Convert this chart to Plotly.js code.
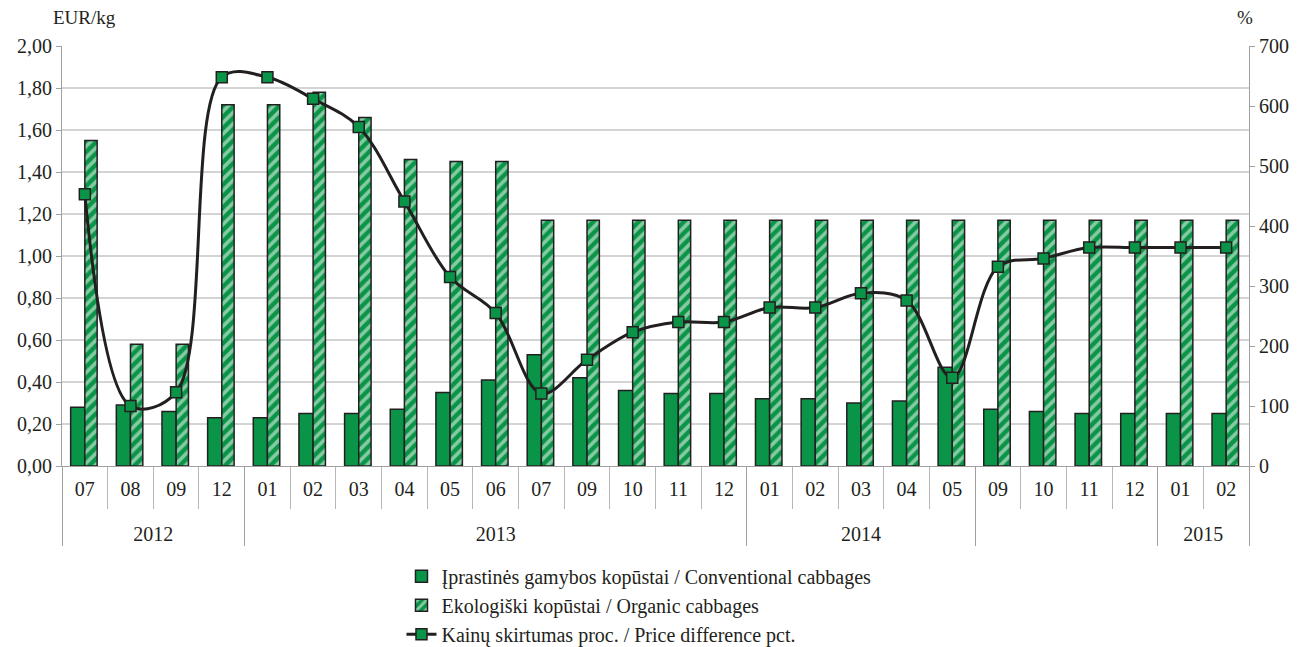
<!DOCTYPE html>
<html>
<head>
<meta charset="utf-8">
<script src="https://cdn.plot.ly/plotly-3.0.1.min.js"></script>
<style>html,body{margin:0;padding:0;background:#fff;}#chart{width:1297px;height:647px;}</style>
</head>
<body>
<div id="chart"></div>
<script>
const years = ['2012','2012','2012','2012',
  '2013','2013','2013','2013','2013','2013','2013','2013','2013','2013','2013',
  '2014','2014','2014','2014','2014',
  ' ',' ',' ',' ',
  '2015','2015'];
const months = ['07','08','09','12',
  '01','02','03','04','05','06','07','09','10','11','12',
  '01','02','03','04','05',
  '09','10','11','12',
  '01','02'];
const conventional = [0.28,0.29,0.26,0.23,0.23,0.25,0.25,0.27,0.35,0.41,0.53,0.42,0.36,0.345,0.345,0.32,0.32,0.30,0.31,0.47,0.27,0.26,0.25,0.25,0.25,0.25];
const organic = [1.55,0.58,0.58,1.72,1.72,1.78,1.66,1.46,1.45,1.45,1.17,1.17,1.17,1.17,1.17,1.17,1.17,1.17,1.17,1.17,1.17,1.17,1.17,1.17,1.17,1.17];
const priceDiff = [453,100,123,648,648,612,565,441,315,255,121,177,223,240,240,264,264,288,276,147,332,346,364,364,364,364];

const names = ['Įprastinės gamybos kopūstai / Conventional cabbages',
  'Ekologiški kopūstai / Organic cabbages',
  'Kainų skirtumas proc. / Price difference pct.'];

const GREEN = '#0a9447';
const EDGE = '#231f20';
const FONT = '"Liberation Serif", "Times New Roman", serif';

// Plotly orders multicategory inner labels by first appearance across the whole axis,
// so each group's month labels get an invisible, group-specific suffix to keep them distinct.
const groupOrder = [];
years.forEach(y => { if (!groupOrder.includes(y)) groupOrder.push(y); });
const outerLabels = years.map(y => y.trim() ? '<br>' + y : ' ');
const innerLabels = months.map((m, i) => m + '\u200b'.repeat(groupOrder.indexOf(years[i])));
const x = [outerLabels, innerLabels];

const traces = [
  {type:'bar', name:names[0], x:x, y:conventional, yaxis:'y',
   offset:-0.31, width:0.31,
   marker:{color:GREEN, line:{color:EDGE, width:1.5}}, legendgroup:'a'},
  {type:'bar', name:names[1], x:x, y:organic, yaxis:'y',
   offset:0.0, width:0.27,
   marker:{color:GREEN, line:{color:EDGE, width:1.5},
     pattern:{shape:'/', fgcolor:'#ffffff', bgcolor:GREEN, size:8, solidity:0.45, fillmode:'overlay'}}, legendgroup:'b'},
  {type:'scatter', mode:'lines+markers', name:names[2], x:x, y:priceDiff, yaxis:'y2',
   line:{color:EDGE, width:3, shape:'spline', smoothing:1},
   marker:{symbol:'square', size:11, color:GREEN, line:{color:EDGE, width:1.5}}, legendgroup:'c'}
];

const layout = {
  width:1297, height:647,
  margin:{l:62, r:48, t:46, b:181, autoexpand:false},
  paper_bgcolor:'#ffffff', plot_bgcolor:'#ffffff',
  separators:', ',
  font:{family:FONT, size:19, color:EDGE},
  barmode:'overlay',
  showlegend:true,
  legend:{x:0.286, y:-0.216, xanchor:'left', yanchor:'top', orientation:'v',
    font:{family:FONT, size:20, color:EDGE}, tracegroupgap:0, bgcolor:'rgba(0,0,0,0)'},
  xaxis:{type:'multicategory',
    range:[-0.5, 25.5], automargin:false,
    showline:true, linecolor:'#a0a0a0', linewidth:1,
    ticks:'outside', ticklen:42, tickcolor:'#b8b8b8', tickwidth:1,
    ticklabelstandoff:5,
    showdividers:true, dividercolor:'#a0a0a0', dividerwidth:1,
    tickfont:{family:FONT, size:20, color:EDGE}, showgrid:false, zeroline:false},
  yaxis:{range:[0,2], dtick:0.2, tickformat:'.2f', showline:true, linecolor:'#a0a0a0', linewidth:1,
    ticks:'outside', ticklen:5, tickcolor:'#a0a0a0', showgrid:true, gridcolor:'#d4d4d4', gridwidth:1.2,
    zeroline:false, automargin:false, tickfont:{family:FONT, size:20, color:EDGE}},
  yaxis2:{range:[0,700], dtick:100, overlaying:'y', side:'right', showline:true, linecolor:'#a0a0a0', linewidth:1,
    ticks:'outside', ticklen:5, tickcolor:'#a0a0a0', showgrid:false, zeroline:false, automargin:false,
    tickfont:{family:FONT, size:20, color:EDGE}},
  annotations:[
    {text:'EUR/kg', xref:'paper', yref:'paper', x:-0.009, y:1.067, xanchor:'left', yanchor:'middle', showarrow:false,
     font:{family:FONT, size:19, color:EDGE}},
    {text:'%', xref:'paper', yref:'paper', x:0.9966, y:1.067, xanchor:'center', yanchor:'middle', showarrow:false,
     font:{family:FONT, size:19, color:EDGE}}
  ]
};

Plotly.newPlot('chart', traces, layout, {displayModeBar:false, staticPlot:true});
</script>
</body>
</html>
